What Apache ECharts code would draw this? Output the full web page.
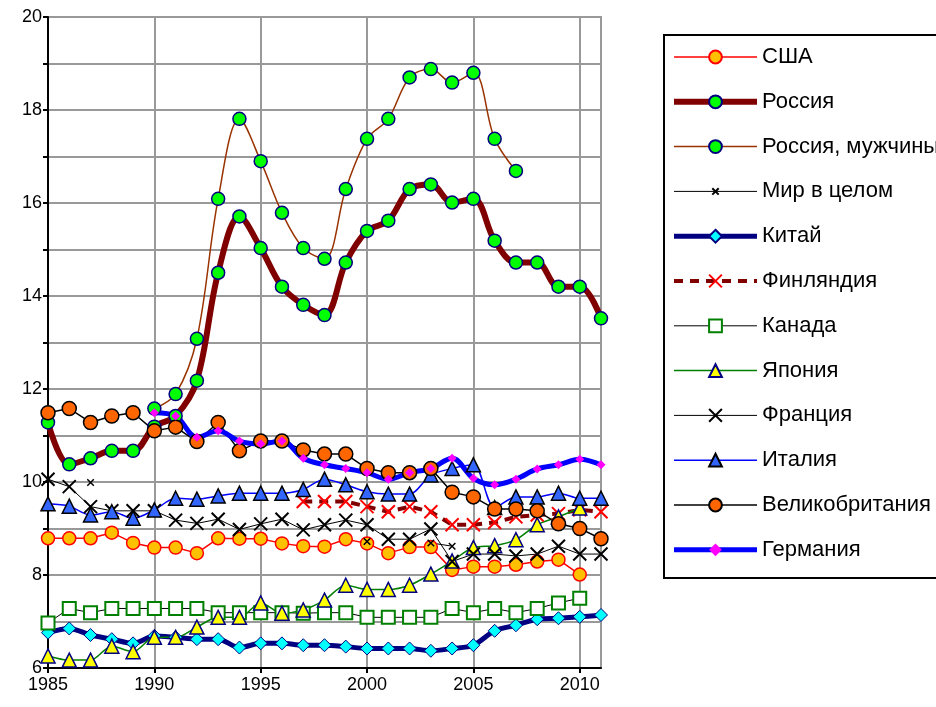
<!DOCTYPE html>
<html>
<head>
<meta charset="utf-8">
<script src="https://cdn.jsdelivr.net/npm/echarts@6/dist/echarts.min.js"></script>
<style>
  html, body { margin: 0; padding: 0; background: #fff; }
  #chart { width: 936px; height: 707px; }
</style>
</head>
<body>
<div id="chart"></div>
<script>
// Years on the horizontal axis
const years = [1985,1986,1987,1988,1989,1990,1991,1992,1993,1994,1995,1996,1997,1998,1999,2000,2001,2002,2003,2004,2005,2006,2007,2008,2009,2010,2011];

// Rates per country, one value per year (null = no data)
const usa      = [8.79,8.79,8.79,8.91,8.69,8.59,8.59,8.47,8.79,8.78,8.78,8.68,8.62,8.61,8.77,8.68,8.47,8.60,8.60,8.11,8.18,8.18,8.22,8.29,8.33,8.01,null];
const russia   = [11.28,10.38,10.51,10.67,10.67,11.19,11.42,12.18,14.50,15.71,15.03,14.20,13.81,13.59,14.72,15.40,15.62,16.30,16.40,16.01,16.09,15.19,14.72,14.72,14.20,14.20,13.52];
const russiaM  = [null,null,null,null,null,11.58,11.89,13.08,16.09,17.81,16.90,15.79,15.03,14.80,16.30,17.38,17.81,18.70,18.88,18.59,18.80,17.38,16.69,null,null,null,null];
const world    = [null,null,9.99,null,null,null,null,null,null,null,null,null,null,null,null,8.72,null,null,8.69,8.62,null,null,null,null,null,null,null];
const china    = [6.76,6.85,6.71,6.62,6.53,6.69,6.66,6.62,6.62,6.44,6.53,6.53,6.49,6.49,6.46,6.42,6.42,6.42,6.37,6.42,6.49,6.80,6.92,7.05,7.07,7.10,7.14];
const finland  = [null,null,null,null,null,null,null,null,null,null,null,null,9.58,9.58,9.58,9.47,9.36,9.47,9.36,9.08,9.08,9.13,9.25,9.29,9.32,9.40,9.36];
const canada   = [6.97,7.28,7.19,7.28,7.28,7.28,7.28,7.28,7.19,7.19,7.19,7.19,7.18,7.19,7.19,7.09,7.09,7.09,7.09,7.28,7.19,7.28,7.19,7.28,7.40,7.50,null];
const japan    = [6.26,6.17,6.17,6.47,6.35,6.66,6.66,6.88,7.09,7.09,7.40,7.18,7.25,7.46,7.78,7.69,7.69,7.78,8.02,8.30,8.59,8.63,8.76,9.08,9.25,9.44,null];
const france   = [10.06,9.90,9.47,9.38,9.38,9.38,9.18,9.11,9.20,8.98,9.10,9.20,8.97,9.08,9.18,9.08,8.77,8.77,8.99,8.29,8.45,8.45,8.41,8.45,8.62,8.45,8.45];
const italy    = [9.53,9.48,9.29,9.36,9.22,9.40,9.65,9.63,9.70,9.76,9.76,9.76,9.84,10.06,9.94,9.79,9.74,9.74,10.15,10.29,10.37,9.45,9.68,9.68,9.76,9.65,9.65];
const uk       = [11.49,11.58,11.28,11.42,11.49,11.10,11.18,10.87,11.28,10.67,10.88,10.88,10.69,10.60,10.60,10.29,10.20,10.20,10.29,9.78,9.68,9.42,9.42,9.38,9.10,9.00,8.78];
const germany  = [null,null,null,null,null,11.49,11.42,10.96,11.10,10.88,10.82,10.88,10.51,10.37,10.29,10.20,10.06,10.20,10.29,10.51,10.08,9.94,10.06,10.28,10.37,10.49,10.37];

const pairs = vals => years.map((y, i) => [y, vals[i]]);

// Stroked crosses: a full-size one, and a small one padded inside a larger box
const CROSS = 'path://M0,0L10,10M10,0L0,10';
const SMALL_CROSS = 'path://M0,0L0,0M16,16L16,16M4,4L12,12M12,4L4,12';
const FONT = 'Liberation Sans, Arial, sans-serif';

function series(name, vals, o) {
  return {
    name: name,
    type: 'line',
    data: pairs(vals),
    smooth: o.smooth || false,
    connectNulls: false,
    symbol: o.symbol,
    symbolSize: o.size,
    showSymbol: true,
    lineStyle: { color: o.line, width: o.width, type: o.dash || 'solid' },
    itemStyle: { color: o.fill, borderColor: o.border, borderWidth: o.bw },
    emphasis: { disabled: true },
    animation: false
  };
}

const list = [
  series('США', usa, { symbol: 'circle', size: 13, fill: '#FFC000', border: '#FF0000', bw: 1.5, line: '#FF0000', width: 1.5 }),
  series('Россия', russia, { symbol: 'circle', size: 13, fill: '#00FF00', border: '#000080', bw: 1.5, line: '#800000', width: 6, smooth: 0.35 }),
  series('Россия, мужчины', russiaM, { symbol: 'circle', size: 13, fill: '#00FF00', border: '#000080', bw: 1.5, line: '#993300', width: 1.5, smooth: 0.35 }),
  series('Мир в целом', world, { symbol: SMALL_CROSS, size: 13, fill: 'transparent', border: '#000', bw: 1.5, line: '#000', width: 1 }),
  series('Китай', china, { symbol: 'diamond', size: 13, fill: '#00FFFF', border: '#000080', bw: 1, line: '#000080', width: 5, smooth: 0.3 }),
  series('Финляндия', finland, { symbol: CROSS, size: 13, fill: 'transparent', border: '#FF0000', bw: 2, line: '#800000', width: 4, dash: [9, 7] }),
  series('Канада', canada, { symbol: 'rect', size: 13, fill: '#FFFFFF', border: '#008000', bw: 2, line: '#000', width: 1 }),
  series('Япония', japan, { symbol: 'triangle', size: 14, fill: '#FFFF00', border: '#000080', bw: 1.5, line: '#008000', width: 1.5, smooth: 0.3 }),
  series('Франция', france, { symbol: CROSS, size: 13, fill: 'transparent', border: '#000', bw: 2, line: '#000', width: 1 }),
  series('Италия', italy, { symbol: 'triangle', size: 14, fill: '#3366FF', border: '#000', bw: 1.5, line: '#0000FF', width: 1.5, smooth: 0.3 }),
  series('Великобритания', uk, { symbol: 'circle', size: 14, fill: '#FF6600', border: '#000', bw: 1.5, line: '#000', width: 1.5 }),
  series('Германия', germany, { symbol: 'diamond', size: 9, fill: '#FF00FF', border: '#FF00FF', bw: 0, line: '#0000FF', width: 5, smooth: 0.35 })
];

// Legend entries carry the same line width and dash as their series
const legendData = list.map(s => ({
  name: s.name,
  lineStyle: { width: s.lineStyle.width, type: s.lineStyle.type, color: s.lineStyle.color }
}));

const chart = echarts.init(document.getElementById('chart'), null, { renderer: 'canvas' });

chart.setOption({
  backgroundColor: '#ffffff',
  animation: false,
  grid: { left: 48, right: 335, top: 17, bottom: 39, show: true, borderColor: '#999999', borderWidth: 2 },
  xAxis: {
    type: 'value', min: 1985, max: 2011, interval: 5,
    axisLine: { lineStyle: { color: '#000', width: 2 } },
    axisTick: { show: true, length: 5, lineStyle: { color: '#000', width: 2 } },
    axisLabel: { color: '#000', fontSize: 18, fontFamily: FONT, margin: 8, showMaxLabel: false,
                 formatter: v => String(v) },
    splitLine: { show: true, lineStyle: { color: '#999999', width: 2 } }
  },
  yAxis: {
    type: 'value', min: 6, max: 20, interval: 1,
    axisLine: { show: true, lineStyle: { color: '#000', width: 2 } },
    axisTick: { show: true, length: 5, lineStyle: { color: '#000', width: 2 } },
    axisLabel: { color: '#000', fontSize: 18, fontFamily: FONT, margin: 6,
                 formatter: v => (v % 2 === 0 ? String(v) : '') },
    splitLine: { show: true, lineStyle: { color: '#999999', width: 2 } }
  },
  legend: {
    orient: 'vertical', left: 671, top: 46, padding: 0,
    itemWidth: 83, itemHeight: 16, itemGap: 22.8,
    data: legendData,
    textStyle: { color: '#000', fontSize: 22, fontFamily: FONT, lineHeight: 22 },
    selectedMode: false
  },
  graphic: [{
    type: 'rect', silent: true,
    shape: { x: 664, y: 35, width: 300, height: 543 },
    style: { fill: 'none', stroke: '#000', lineWidth: 2 },
    z: 0
  }],
  series: list
});
</script>
</body>
</html>
